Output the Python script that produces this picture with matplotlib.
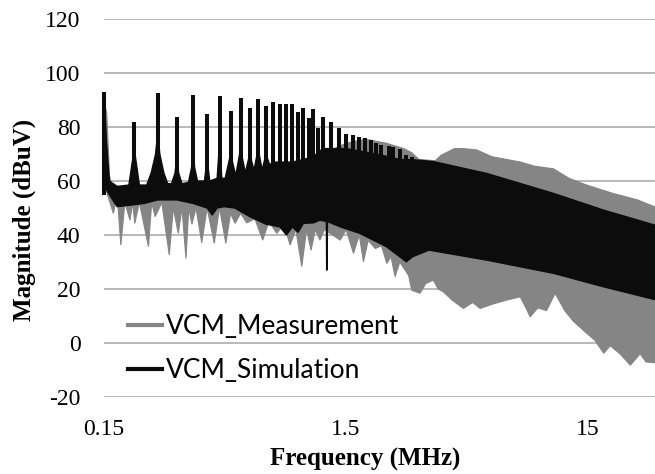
import numpy as np
import matplotlib.pyplot as plt
from matplotlib.lines import Line2D

plt.rcParams['font.family'] = ['Liberation Serif', 'DejaVu Serif']
plt.rcParams['axes.unicode_minus'] = False

# frequency in MHz, magnitude in dBuV

# simulation: resonance spikes
sim_peak_f = [0.15, 0.2, 0.25, 0.3, 0.35, 0.4, 0.45, 0.5, 0.55, 0.6, 0.65,
              0.7, 0.75, 0.8, 0.85, 0.9, 0.95, 1.0, 1.05, 1.1, 1.15, 1.2,
              1.3, 1.4, 1.5, 1.6, 1.7, 1.8, 1.9, 2.0, 2.1, 2.25, 2.35, 2.5,
              2.65, 2.8]
sim_peak_v = [92.8, 82, 92.5, 83.8, 91.8, 84.8, 91.5, 86, 90.8, 86.9, 90.2,
              87.8, 89.2, 88.7, 88.4, 88.4, 85.7, 86.9, 83.2, 86.5, 79.5, 83.8,
              82, 79.5, 77.4, 76.9, 76.4, 75.8, 75.2, 74.2, 73.3, 73, 72.5, 71.7,
              69.6, 68.8]

# simulation: dense band, upper edge
sim_top_f = [0.15, 0.1537, 0.158, 0.17, 0.19, 0.2, 0.21, 0.225, 0.235, 0.245,
             0.25, 0.255, 0.265, 0.275, 0.285, 0.295, 0.3, 0.305, 0.315, 0.335,
             0.345, 0.35, 0.355, 0.365, 0.39, 0.4, 0.41, 0.44, 0.45, 0.46,
             0.475, 0.5, 0.525, 0.55, 0.575, 0.6, 0.625, 0.65, 0.675, 0.7,
             0.725, 0.75, 0.9, 1.0, 1.1, 1.2, 1.5, 2.0, 2.5, 2.9, 3.44, 5.72,
             10.8, 17.4, 30]
sim_top_v = [92.8, 74, 60, 58, 58.5, 72, 58.5, 58.5, 63, 70,
             78, 70, 63, 59, 59, 63, 70, 63, 59, 59.5,
             65, 74, 65, 60, 60, 68, 60, 61, 74, 61,
             61, 70, 62, 72, 63, 70, 64, 72, 64, 70,
             66, 67, 67, 68, 69, 72, 72, 70, 68, 67.8, 67.2, 62.8,
             55.4, 49.2, 43]

# simulation: dense band, lower edge
sim_bot_f = [0.15, 0.155, 0.17, 0.19, 0.22, 0.25, 0.3, 0.35, 0.4, 0.42, 0.44,
             0.47, 0.52, 0.6, 0.7, 0.8, 0.85, 0.9, 0.95, 1.0, 1.1, 1.17, 1.244,
             1.247, 1.253, 1.256, 1.42, 1.71, 2.2, 2.66, 2.83, 3.3, 5.72, 10.8,
             17.4, 30]
sim_bot_v = [60, 56, 50.5, 51, 51.7, 53, 53, 51.7, 50, 47.4, 50,
             50.5, 50, 46.8, 44, 43, 40, 43, 41, 44.3, 44.5, 45.5, 45,
             27, 27, 45, 43, 40.6, 35.7, 30.1, 32, 34.4, 30.7, 25.8,
             20.8, 15.5]

# measurement: upper edge
meas_top_f = [0.15, 0.154, 0.158, 0.162, 0.3, 0.6, 1.0, 1.2, 1.5, 1.8, 2.2,
              2.6, 2.8, 3.0, 3.5, 3.7, 4.2, 4.6, 5.2, 6.0, 7.9, 9.0, 10.8,
              12.5, 14.8, 19, 24, 30]
meas_top_v = [90, 85, 62, 58, 58, 60, 62, 70, 74, 75.5, 74,
              72, 70.5, 68, 67.5, 69.5, 72, 72, 71.5, 69, 67, 65.5, 64.5,
              61, 58.5, 55.4, 53, 49.5]

# measurement: lower edge (dips)
meas_bot_f = [0.15, 0.155, 0.164, 0.17, 0.176, 0.183, 0.192, 0.197, 0.201,
              0.21, 0.229, 0.236, 0.244, 0.26, 0.279, 0.29, 0.304, 0.315,
              0.327, 0.336, 0.346, 0.36, 0.38, 0.40, 0.428, 0.45, 0.478, 0.50,
              0.522, 0.55, 0.583, 0.63, 0.679, 0.72, 0.776, 0.83, 0.881, 0.93,
              0.984, 1.03, 1.075, 1.12, 1.17, 1.22, 1.42, 1.5, 1.61, 1.7, 1.77,
              1.85, 1.98, 2.1, 2.21, 2.3, 2.39, 2.5, 2.63, 2.72, 2.8, 3.03,
              3.2, 3.44, 3.6, 3.78, 4.1, 4.58, 5.0, 5.37, 6.09, 6.92, 7.86,
              8.3, 8.64, 9.3, 10.1, 10.96, 12.0, 13.05, 14.8, 16.0, 17.4, 18.5,
              20.3, 22.4, 24.6, 26.0, 30]
meas_bot_v = [60, 55, 48, 55, 36.3, 52, 45.5, 52, 44.3,
              52, 35.7, 52, 46.8, 52, 32.6, 50, 40.6, 50,
              31.3, 50, 44, 50, 37.1, 50, 36.9, 50, 36.9, 48,
              44.3, 48, 44.5, 46, 38.1, 45, 40.6, 44, 36.3, 42,
              28.3, 42, 34.4, 42, 38.1, 42, 38.1, 42, 33.2, 40, 30.1,
              38, 35, 36, 29.5, 32, 24.6, 30, 27, 25, 19.6, 18.4,
              22, 23.3, 20, 19, 16, 12.8, 15, 12.8, 14.5, 15.9, 17.1,
              13, 9.7, 13, 12, 18.4, 12, 8, 3.6, 1, -3.8, -1,
              -4, -8.2, -4, -7, -7.5]

series_names = ['VCM_Measurement', 'VCM_Simulation']
x_ticks = [0.15, 1.5, 15]
x_tick_labels = ['0.15', '1.5', '15']
y_ticks = [-20, 0, 20, 40, 60, 80, 100, 120]

GRAY = '#858585'
BLACK = '#0c0c0c'


def outline(top_f, top_v, bot_f, bot_v):
    xs = np.concatenate([top_f, bot_f[::-1]])
    ys = np.concatenate([top_v, bot_v[::-1]])
    return xs, ys


fig = plt.figure(figsize=(6.55, 4.74), dpi=100)
ax = fig.add_axes([0.1588, 0.1624, 0.8504, 0.7975])

mx, my = outline(meas_top_f, meas_top_v, meas_bot_f, meas_bot_v)
ax.fill(mx, my, color=GRAY, lw=0.8, zorder=2)

sx, sy = outline(sim_top_f, sim_top_v, sim_bot_f, sim_bot_v)
ax.fill(sx, sy, color=BLACK, lw=1.0, zorder=3)
ax.vlines(sim_peak_f, 55, sim_peak_v, color=BLACK, lw=2.9, zorder=3,
          clip_on=False)

ax.set_xscale('log')
ax.set_xlim(0.15, 30)
ax.set_ylim(-20, 120)
ax.set_xticks(x_ticks)
ax.set_xticklabels(x_tick_labels)
ax.xaxis.set_minor_locator(plt.NullLocator())
ax.set_yticks(y_ticks)
ax.grid(axis='y', color='#a6a6a6', lw=1.1)
ax.set_axisbelow(True)
for s in ax.spines.values():
    s.set_visible(False)
ax.tick_params(length=0, labelsize=17)
ax.tick_params(axis='x', pad=16)
ax.tick_params(axis='y', pad=17)

fig.text(365 / 655, 1 - 459 / 474, 'Frequency (MHz)', ha='center', va='center',
         fontsize=18, fontweight='bold')
fig.text(24 / 655, 1 - 220 / 474, 'Magnitude (dBuV)', ha='center', va='center',
         rotation=90, fontsize=18, fontweight='bold')

handles = [Line2D([], [], color=GRAY, lw=3), Line2D([], [], color=BLACK, lw=3)]
ax.legend(handles, series_names, loc='upper left',
          bbox_to_anchor=(128 / 655, 1 - 314 / 474), bbox_transform=fig.transFigure,
          frameon=False, prop={'family': 'Lato', 'size': 19},
          handlelength=1.3, handletextpad=0.15, labelspacing=0.72,
          borderpad=0, borderaxespad=0)

fig.savefig('out.png', dpi=100)
